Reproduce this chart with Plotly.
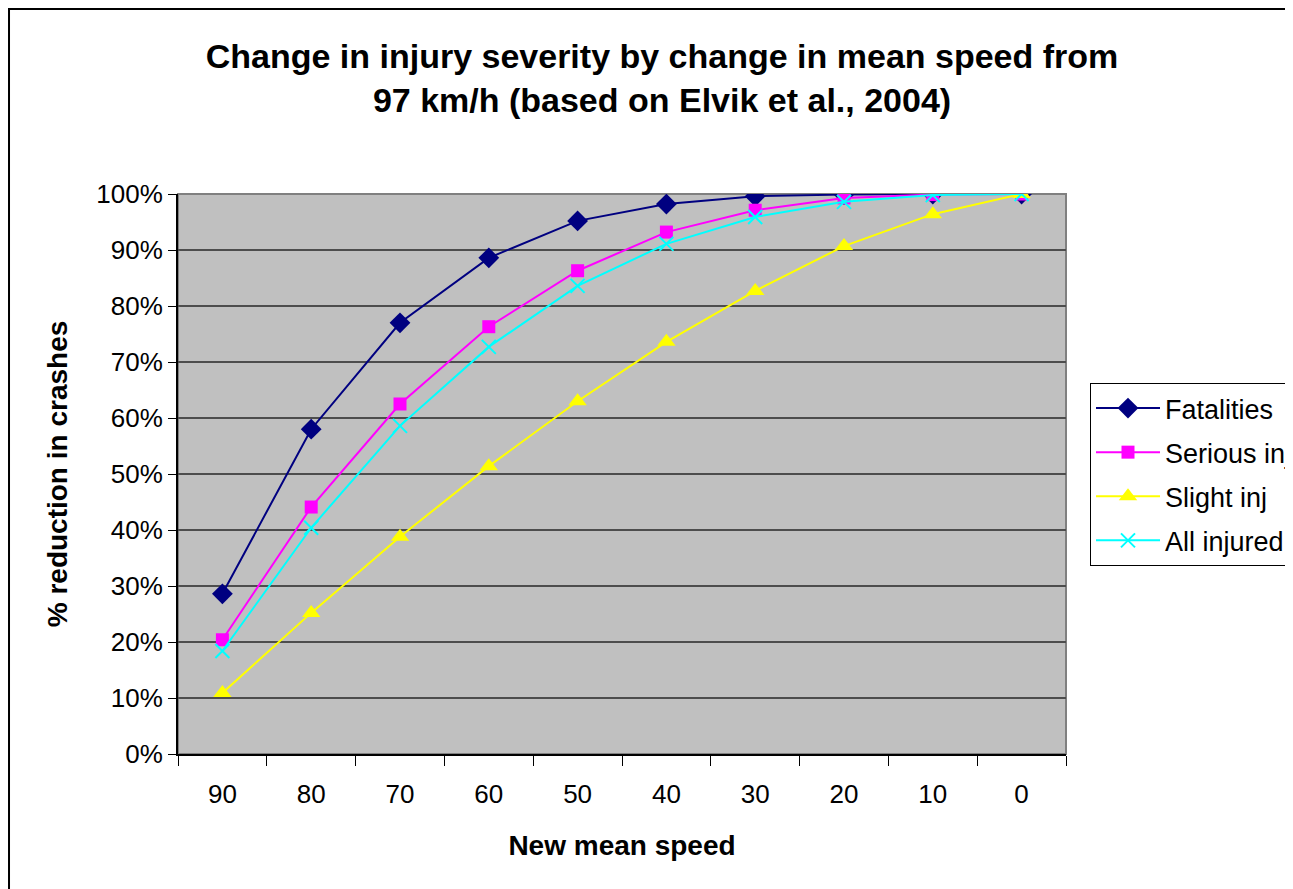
import plotly.graph_objects as go

# new mean speed (km/h), starting from 97 km/h
speeds = ["90", "80", "70", "60", "50", "40", "30", "20", "10", "0"]

fatalities = [28.6, 58.0, 77.0, 88.6, 95.2, 98.2, 99.6, 99.9, 100.0, 100.0]
serious_inj = [20.4, 44.1, 62.5, 76.3, 86.3, 93.2, 97.1, 99.3, 99.9, 100.0]
slight_inj = [10.9, 25.2, 38.8, 51.4, 63.0, 73.6, 82.7, 90.7, 96.4, 100.0]
all_injured = [18.4, 40.4, 58.6, 72.7, 83.6, 91.1, 95.9, 98.6, 99.8, 100.0]

FONT = "Arial, Liberation Sans, sans-serif"

series = [
    ("Fatalities", fatalities, "#000080", dict(symbol="diamond", size=16)),
    ("Serious inj", serious_inj, "#FF00FF", dict(symbol="square", size=13)),
    ("Slight inj", slight_inj, "#FFFF00", dict(symbol="triangle-up", size=16)),
    ("All injured", all_injured, "#00FFFF",
     dict(symbol="x-thin", size=14, line=dict(width=2, color="#00FFFF"))),
]

fig = go.Figure()
for i, (name, vals, color, marker) in enumerate(series):
    fig.add_trace(go.Scatter(
        x=speeds,
        y=vals,
        name=name,
        mode="lines+markers",
        line=dict(color=color, width=2),
        marker=dict(color=color, **marker),
        legendgroup=f"g{i}",
    ))

fig.update_layout(
    width=1293,
    height=889,
    paper_bgcolor="white",
    plot_bgcolor="#C0C0C0",
    font=dict(family=FONT, color="black", size=26),
    margin=dict(l=170, r=235, t=186, b=143),
    title=dict(
        text="Change in injury severity by change in mean speed from<br>"
             "97 km/h (based on Elvik et al., 2004)",
        x=654 / 1293, xanchor="center",
        y=0.933, yanchor="top",
        font=dict(family=FONT, size=34, color="black", weight="bold"),
    ),
    showlegend=True,
    legend=dict(
        xref="container",
        x=1082 / 1293, xanchor="left",
        y=0.6625, yanchor="top",
        bgcolor="white",
        bordercolor="black",
        borderwidth=1,
        font=dict(family=FONT, size=27, color="black"),
        itemwidth=64,
        tracegroupgap=6,
    ),
)

fig.update_xaxes(
    type="category",
    range=[-0.5, len(speeds) - 0.5],
    tickson="boundaries",
    ticks="outside",
    ticklen=10,
    tickcolor="black",
    tickwidth=1,
    showgrid=False,
    showline=True,
    linecolor="black",
    linewidth=2,
    ticklabelstandoff=16,
    tickfont=dict(size=26),
    title=dict(
        text="New mean speed",
        font=dict(size=28, weight="bold"),
        standoff=27,
    ),
)

fig.update_yaxes(
    range=[0, 100],
    dtick=10,
    ticksuffix="%",
    ticks="outside",
    ticklen=8,
    tickcolor="black",
    showgrid=True,
    gridcolor="#4D4D4D",
    gridwidth=2,
    showline=True,
    linecolor="black",
    linewidth=2,
    zeroline=False,
    ticklabelstandoff=0,
    tickfont=dict(size=26),
    title=dict(
        text="% reduction in crashes",
        font=dict(size=28, weight="bold"),
        standoff=20,
    ),
)

# grey frame on top and right of the plot area
fig.add_shape(type="rect", xref="paper", yref="paper",
              x0=0, x1=1, y0=0, y1=1,
              line=dict(color="#808080", width=2), layer="below")
# outer chart border
fig.add_shape(type="rect", xref="paper", yref="paper",
              x0=-0.1903, x1=1.3, y0=-0.3, y1=1.3304,
              line=dict(color="black", width=2))

fig.write_html("out.html")
